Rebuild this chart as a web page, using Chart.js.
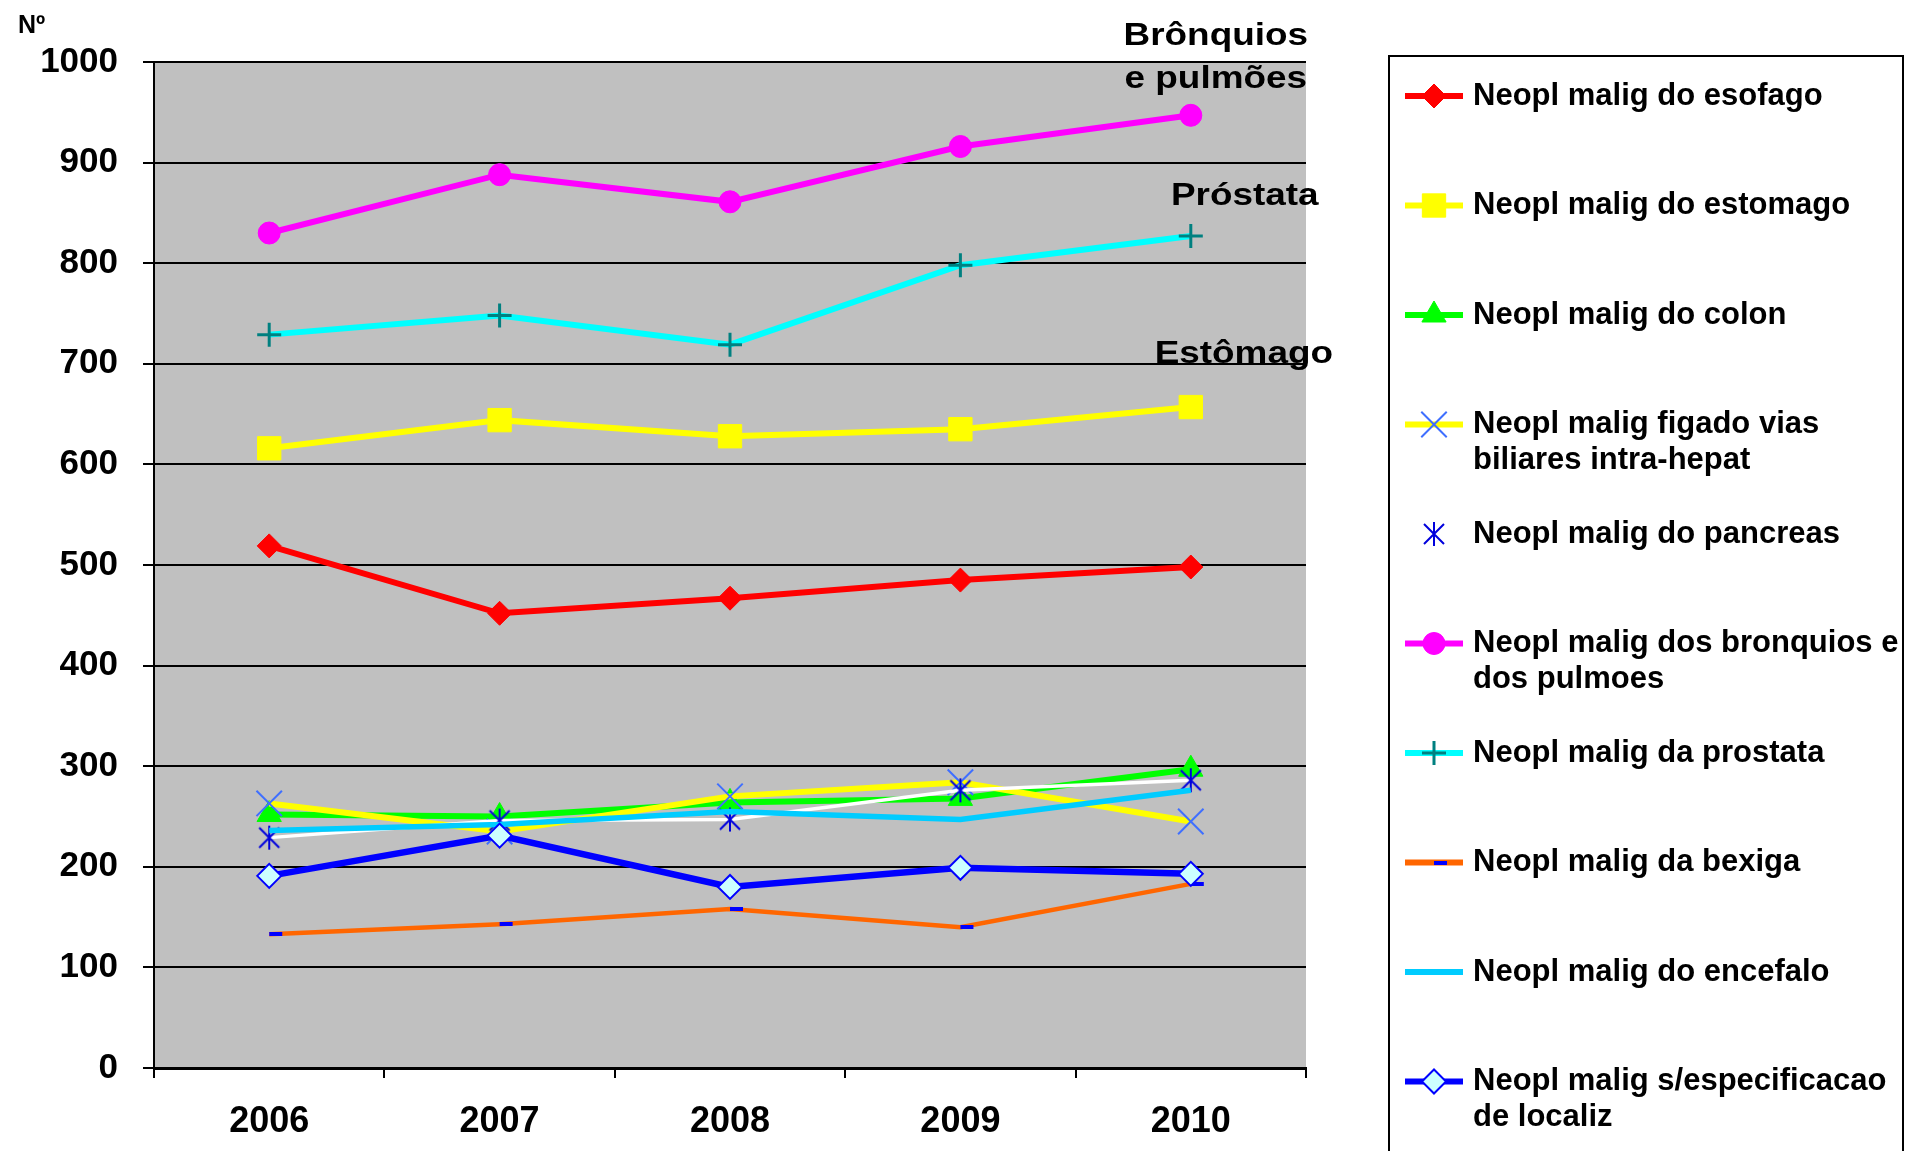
<!DOCTYPE html>
<html>
<head>
<meta charset="utf-8">
<script src="https://cdn.jsdelivr.net/npm/chart.js@4.4.1/dist/chart.umd.min.js"></script>
<style>
body { margin: 0; background: #fff; }
</style>
</head>
<body>
<canvas id="chart" width="1907" height="1151"></canvas>
<script>
var years = ['2006', '2007', '2008', '2009', '2010'];

var esofago = [519, 452, 467, 485, 498];
var estomago = [616, 644, 628, 635, 657];
var colon = [252, 250, 264, 268, 297];
var figado = [263, 235, 270, 284, 245];
var pancreas = [229, 246, 247, 276, 286];
var bronquios = [830, 888, 861, 916, 947];
var prostata = [729, 748, 719, 798, 827];
var bexiga = [133, 143, 158, 140, 183];
var encefalo = [236, 242, 255, 247, 276];
var semLocal = [191, 231, 180, 199, 193];

var names = [
  'Neopl malig do esofago',
  'Neopl malig do estomago',
  'Neopl malig do colon',
  'Neopl malig figado vias\nbiliares intra-hepat',
  'Neopl malig do pancreas',
  'Neopl malig dos bronquios e\ndos pulmoes',
  'Neopl malig da prostata',
  'Neopl malig da bexiga',
  'Neopl malig do encefalo',
  'Neopl malig s/especificacao\nde localiz'
];

var notes = [['Brônquios', 'e pulmões'], ['Próstata'], ['Estômago']];

var FONT = "'Liberation Sans', Arial, Helvetica, sans-serif";
Chart.defaults.font.family = FONT;
Chart.defaults.font.weight = 'bold';
Chart.defaults.color = '#000';

// asterisk marker (vertical bar + X), like the old excel one
function makeStar() {
  var c = document.createElement('canvas');
  c.width = 24; c.height = 26;
  var g = c.getContext('2d');
  g.strokeStyle = '#0000DD';
  g.lineWidth = 2;
  g.beginPath();
  g.moveTo(12, 1); g.lineTo(12, 25);
  g.moveTo(2, 3); g.lineTo(22, 23);
  g.moveTo(22, 3); g.lineTo(2, 23);
  g.stroke();
  return c;
}
// short dash sitting right of the point
function makeDash() {
  var c = document.createElement('canvas');
  c.width = 28; c.height = 4;
  var g = c.getContext('2d');
  g.fillStyle = '#0000FF';
  g.fillRect(14, 0, 13, 4);
  return c;
}
var star = makeStar();
var dash = makeDash();

function series(i, data, color, style, radius, fill, border, bw, lw) {
  return {
    label: names[i].replace('\n', ' '),
    data: data,
    borderColor: color,
    borderWidth: lw,
    backgroundColor: color,
    pointStyle: style,
    pointRadius: radius,
    pointBackgroundColor: fill,
    pointBorderColor: border,
    pointBorderWidth: bw,
    tension: 0,
    order: 10 - i
  };
}

var datasets = [
  series(0, esofago, '#FF0000', 'rectRot', 12, '#FF0000', '#FF0000', 1, 6),
  series(1, estomago, '#FFFF00', 'rect', 16.5, '#FFFF00', '#FFFF00', 1, 6),
  series(2, colon, '#00FF00', 'triangle', 14, '#00FF00', '#00FF00', 1, 6),
  series(3, figado, '#FFFF00', 'crossRot', 18, '#3F6FFF', '#3F6FFF', 2, 6),
  series(4, pancreas, '#FFFFFF', star, 12, '#0000DD', '#0000DD', 2, 3.5),
  series(5, bronquios, '#FF00FF', 'circle', 11, '#FF00FF', '#FF00FF', 1, 6),
  series(6, prostata, '#00FFFF', 'cross', 12, '#008080', '#008080', 3, 6),
  series(7, bexiga, '#FF6600', dash, 12, '#0000FF', '#0000FF', 1, 4.5),
  series(8, encefalo, '#00CCFF', 'circle', 0, '#00CCFF', '#00CCFF', 1, 5.5),
  series(9, semLocal, '#0000FF', 'rectRot', 12, '#CCFFFF', '#0000FF', 2, 6.5)
];

var plotBg = {
  id: 'plotBg',
  beforeDraw: function (chart) {
    var a = chart.chartArea, ctx = chart.ctx;
    ctx.save();
    ctx.fillStyle = '#C0C0C0';
    ctx.fillRect(a.left, a.top, a.right - a.left, a.bottom - a.top);
    ctx.restore();
  }
};

// text stretched a bit sideways, the source picture is wider than tall
function wideText(ctx, txt, cx, y, sx) {
  ctx.save();
  ctx.translate(cx, y);
  ctx.scale(sx, 1);
  ctx.fillText(txt, 0, 0);
  ctx.restore();
}

var extras = {
  id: 'extras',
  afterDraw: function (chart) {
    var ctx = chart.ctx, a = chart.chartArea;
    var x10 = chart.scales.x.getPixelForValue(4);
    ctx.save();
    ctx.fillStyle = '#000';
    ctx.textBaseline = 'alphabetic';

    ctx.font = 'bold 25px ' + FONT;
    ctx.textAlign = 'left';
    ctx.fillText('Nº', 18, 33);

    ctx.font = 'bold 31px ' + FONT;
    ctx.textAlign = 'center';
    wideText(ctx, notes[0][0], x10 + 25, a.top - 17, 1.19);
    wideText(ctx, notes[0][1], x10 + 25, a.top + 26, 1.19);
    wideText(ctx, notes[1][0], x10 + 54, a.top + 143, 1.19);
    wideText(ctx, notes[2][0], x10 + 53, a.top + 301, 1.19);

    // legend box
    ctx.strokeStyle = '#000';
    ctx.lineWidth = 2;
    ctx.strokeRect(1389, 56, 514, 1130);
    ctx.textAlign = 'left';
    ctx.textBaseline = 'middle';
    chart.data.datasets.forEach(function (ds, i) {
      var y = 96 + i * 109.5;
      ctx.strokeStyle = ds.borderColor;
      ctx.lineWidth = 6;
      ctx.beginPath();
      ctx.moveTo(1405, y);
      ctx.lineTo(1463, y);
      ctx.stroke();
      if (ds.pointRadius > 0 && Chart.helpers && Chart.helpers.drawPoint) {
        ctx.fillStyle = ds.pointBackgroundColor;
        ctx.strokeStyle = ds.pointBorderColor;
        ctx.lineWidth = ds.pointBorderWidth;
        Chart.helpers.drawPoint(ctx, {
          pointStyle: ds.pointStyle, radius: ds.pointRadius,
          borderWidth: ds.pointBorderWidth, rotation: 0
        }, 1434, y);
      }
      ctx.fillStyle = '#000';
      ctx.font = 'bold 31px ' + FONT;
      names[i].split('\n').forEach(function (t, k) {
        ctx.fillText(t, 1473, y + k * 36);
      });
    });
    ctx.restore();
  }
};

new Chart(document.getElementById('chart'), {
  type: 'line',
  data: { labels: years, datasets: datasets },
  plugins: [plotBg, extras],
  options: {
    responsive: false,
    animation: false,
    events: [],
    layout: { padding: { left: 0, top: 62, right: 601, bottom: 0 } },
    plugins: { legend: { display: false }, tooltip: { enabled: false } },
    scales: {
      x: {
        offset: true,
        afterFit: function (s) { s.height = 83; },
        grid: { offset: true, drawOnChartArea: false, drawTicks: true, tickLength: 10, color: '#000', lineWidth: 2 },
        border: { color: '#000', width: 3 },
        ticks: { padding: 22, font: { size: 36, weight: 'bold' }, color: '#000', maxRotation: 0 }
      },
      y: {
        min: 0,
        max: 1000,
        afterFit: function (s) { s.width = 154; },
        grid: { color: '#000', lineWidth: 2, tickLength: 11 },
        border: { color: '#000', width: 2 },
        ticks: {
          stepSize: 100, padding: 25, font: { size: 35, weight: 'bold' }, color: '#000',
          callback: function (v) { return String(v); }
        }
      }
    }
  }
});
</script>
</body>
</html>
